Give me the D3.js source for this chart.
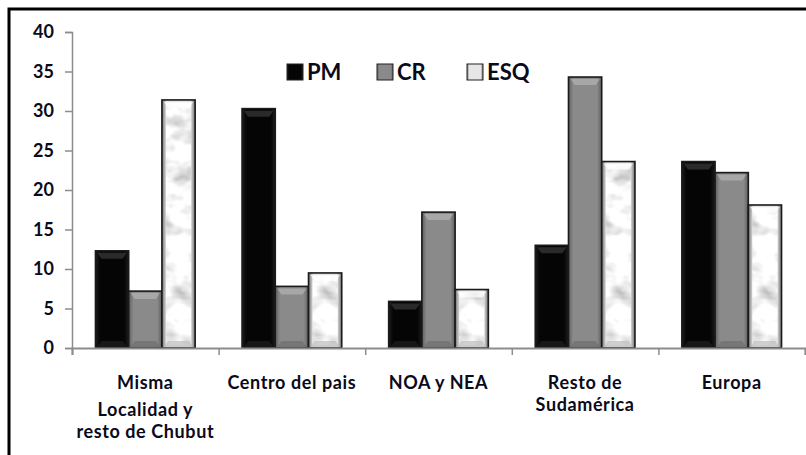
<!DOCTYPE html>
<html>
<head>
<meta charset="utf-8">
<script src="https://cdn.jsdelivr.net/npm/d3@7"></script>
<style>
  body { margin: 0; background: #fff; }
  text { font-family: Lato, "Open Sans", sans-serif; font-weight: bold; fill: #0a0a1a; }
</style>
</head>
<body>
<div id="chart"></div>
<script>
// data
var categories = ["Misma Localidad y resto de Chubut", "Centro del pais", "NOA y NEA", "Resto de Sudamérica", "Europa"];
var catLines = [["Misma", "Localidad y", "resto de Chubut"], ["Centro del pais"], ["NOA y NEA"], ["Resto de", "Sudamérica"], ["Europa"]];
var seriesNames = ["PM", "CR", "ESQ"];
var pm  = [12.3, 30.3, 5.9, 13.0, 23.6];
var cr  = [7.2, 7.8, 17.2, 34.3, 22.2];
var esq = [31.4, 9.5, 7.4, 23.6, 18.1];
var yTicks = [0, 5, 10, 15, 20, 25, 30, 35, 40];

var width = 806, height = 455;
var margin = {top: 32, right: 1, bottom: 107, left: 72};

var svg = d3.select("#chart").append("svg")
    .attr("width", width)
    .attr("height", height);

var defs = svg.append("defs");

// bevel gradients for bars
function bevel(id, edge, mid) {
  var g = defs.append("linearGradient").attr("id", id).attr("x1", "0").attr("x2", "1");
  g.append("stop").attr("offset", "0%").attr("stop-color", edge);
  g.append("stop").attr("offset", "14%").attr("stop-color", mid);
  g.append("stop").attr("offset", "86%").attr("stop-color", mid);
  g.append("stop").attr("offset", "100%").attr("stop-color", edge);
}
bevel("gPM", "#1c1c1c", "#050505");
bevel("gCR", "#5e5e5e", "#8a8a8a");
bevel("gESQ", "#6e6e6e", "#e6e6e6");

// marble texture for ESQ
var marble = defs.append("filter").attr("id", "marble").attr("x", 0).attr("y", 0).attr("width", 1).attr("height", 1);
marble.append("feTurbulence").attr("type", "fractalNoise").attr("baseFrequency", "0.04 0.055").attr("numOctaves", 3).attr("seed", 7).attr("result", "n");
marble.append("feColorMatrix").attr("in", "n").attr("type", "matrix")
  .attr("values", "1.25 0 0 0 0.3  1.25 0 0 0 0.3  1.25 0 0 0 0.3  0 0 0 0 1")
  .attr("result", "c");
marble.append("feComposite").attr("in", "c").attr("in2", "SourceGraphic").attr("operator", "in");

// outer frame
svg.append("rect")
  .attr("x", 9).attr("y", 9)
  .attr("width", width + 20).attr("height", height + 20)
  .attr("fill", "none").attr("stroke", "#000").attr("stroke-width", 3);

var x0 = d3.scaleBand().domain(categories).range([margin.left, width - margin.right]).paddingInner(0.32).paddingOuter(0.16);
var x1 = d3.scaleBand().domain(seriesNames).range([0, x0.bandwidth()]);
var y = d3.scaleLinear().domain([0, 40]).range([height - margin.bottom, margin.top]);

var xEdge = d3.scaleLinear().domain([0, categories.length]).range([margin.left, width - margin.right]);

// y axis
var yAxis = svg.append("g")
  .attr("transform", "translate(" + margin.left + ",0)")
  .call(d3.axisLeft(y).tickValues(yTicks).tickSize(7).tickPadding(11));
yAxis.select(".domain").attr("stroke", "#8c8c8c").attr("stroke-width", 1.5);
yAxis.selectAll(".tick line").attr("stroke", "#8c8c8c").attr("stroke-width", 1.5);
yAxis.selectAll(".tick text").style("font-size", "18px").attr("fill", "#0a0a1a");

var seriesData = [pm, cr, esq];
var fills = ["url(#gPM)", "url(#gCR)", "url(#gESQ)"];

var groups = svg.selectAll(".grp")
  .data(categories)
  .enter().append("g")
  .attr("transform", function(d) { return "translate(" + x0(d) + ",0)"; });

groups.each(function(cat, ci) {
  var g = d3.select(this);
  seriesNames.forEach(function(s, si) {
    var v = seriesData[si][ci];
    var bx = x1(s), bw = x1.bandwidth(), by = y(v), bh = y(0) - y(v);
    g.append("rect")
      .attr("x", bx).attr("y", by).attr("width", bw).attr("height", bh)
      .attr("fill", fills[si]);
    if (si === 2) {
      g.append("rect")
        .attr("x", bx + 4).attr("y", by + 3).attr("width", bw - 8).attr("height", bh - 6)
        .attr("fill", "#fff")
        .attr("filter", "url(#marble)");
    }
    // top bevel highlight
    var capCol = si === 0 ? "#3a3a3a" : (si === 1 ? "#b4b4b4" : "#ffffff");
    g.append("path")
      .attr("d", "M" + (bx + 2) + "," + (by + 2) + "H" + (bx + bw - 2) + "L" + (bx + bw - 6) + "," + (by + 8) + "H" + (bx + 6) + "Z")
      .attr("fill", capCol).attr("opacity", 0.7);
    var baseCol = si === 0 ? "#202020" : (si === 1 ? "#6e6e6e" : "#bdbdbd");
    g.append("path")
      .attr("d", "M" + (bx + 2) + "," + (y(0) - 1) + "H" + (bx + bw - 2) + "L" + (bx + bw - 6) + "," + (y(0) - 7) + "H" + (bx + 6) + "Z")
      .attr("fill", baseCol).attr("opacity", 0.7);
    g.append("rect")
      .attr("x", bx).attr("y", by).attr("width", bw).attr("height", bh)
      .attr("fill", "none").attr("stroke", "#1a1a1a").attr("stroke-width", 1.6);
  });
});

// x axis
var xAxis = svg.append("g")
  .attr("transform", "translate(0," + y(0) + ")")
  .call(d3.axisBottom(xEdge).tickValues(d3.range(0, categories.length + 1)).tickSize(7).tickFormat(""));
xAxis.select(".domain").attr("stroke", "#8c8c8c").attr("stroke-width", 2);
xAxis.selectAll(".tick line").attr("stroke", "#8c8c8c").attr("stroke-width", 1.5);

// category labels
catLines.forEach(function(lines, ci) {
  var cx = x0(categories[ci]) + x0.bandwidth() / 2;
  var t = svg.append("text")
    .attr("x", cx)
    .attr("y", 389)
    .attr("text-anchor", "middle")
    .style("font-size", "18px")
    .style("letter-spacing", "0.6px");
  lines.forEach(function(l, li) {
    t.append("tspan").attr("x", cx)
      .attr("dy", li === 0 ? 0 : (ci === 0 && li === 1 ? 27 : 22)).text(l);
  });
});

// legend
var legX = d3.scalePoint().domain(seriesNames).range([287, 467]);
var leg = svg.selectAll(".leg").data(seriesNames).enter().append("g")
  .attr("transform", function(d) { return "translate(" + legX(d) + ",64)"; });
leg.append("rect").attr("width", 16).attr("height", 16)
  .attr("fill", function(d, i) { return fills[i]; })
  .attr("stroke", "#222").attr("stroke-width", 1);
leg.append("text").attr("x", 20).attr("y", 16).style("font-size", "22px").text(function(d) { return d; });
</script>
</body>
</html>
